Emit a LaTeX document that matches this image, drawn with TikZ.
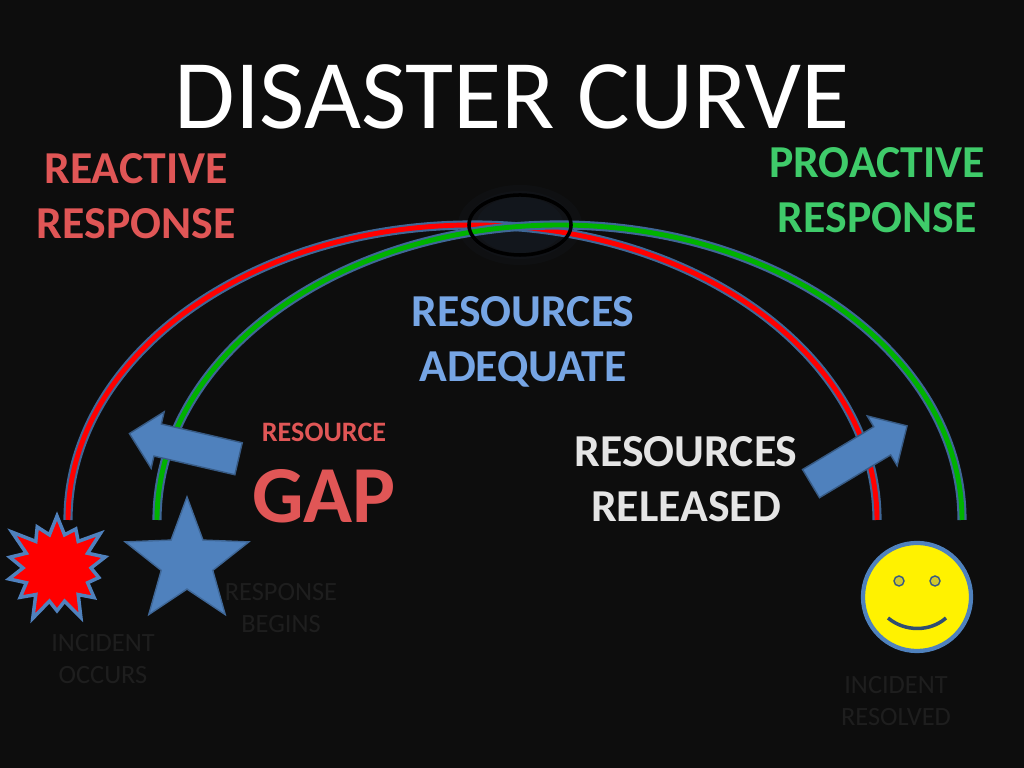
\documentclass[tikz,border=0pt]{standalone}
\usepackage{fontspec}
\setmainfont{Carlito}
\usetikzlibrary{shapes.geometric,shapes.arrows,shapes.misc,shapes}
\definecolor{bg}{HTML}{0D0D0D}
\definecolor{redtxt}{HTML}{E05656}
\definecolor{greentxt}{HTML}{3FCB6A}
\definecolor{bluetxt}{HTML}{76A5E4}
\definecolor{shapeblue}{HTML}{4F81BD}
\definecolor{dimtxt}{HTML}{1E1E1E}
\begin{document}
\begin{tikzpicture}[x=0.01cm, y=-0.01cm,
      heading/.style={font=\bfseries\fontsize{13}{15.5}\selectfont, align=center},
      dimlabel/.style={text=dimtxt, font=\fontsize{7.5}{9}\selectfont, align=center},
      blockarrow/.style={single arrow, draw=shapeblue!70!black, fill=shapeblue, minimum height=1.12cm, minimum width=0.58cm, single arrow head extend=0.12cm, inner sep=0pt}]
      \fill[bg] (0,0) rectangle (1024,768);
      % glow round the crossing
      \foreach \r in {1.0,0.85,0.7} {
        \fill[shapeblue, opacity=0.03] (520,225) ellipse ({62*\r} and {40*\r});
      }
      % reactive curve
      \draw[shapeblue!80!black, line width=2.6pt] (68,520) arc[start angle=180, end angle=360, x radius=404.5, y radius=295];
      \draw[red, line width=1.4pt] (68,520) arc[start angle=180, end angle=360, x radius=404.5, y radius=295];
      % proactive curve
      \draw[shapeblue!80!black, line width=2.6pt] (157,520) arc[start angle=180, end angle=360, x radius=402.5, y radius=295];
      \draw[green!70!black, line width=1.4pt] (157,520) arc[start angle=180, end angle=360, x radius=402.5, y radius=295];
      \node[draw=black, line width=1pt, ellipse, minimum width=1.02cm, minimum height=0.6cm] (cross) at (520,225) {};
      \node[text=white, font=\fontsize{28}{32}\selectfont] (title) at (512,97) {DISASTER CURVE};
      \node[heading, text=redtxt] (reactive) at (136,196) {REACTIVE\\RESPONSE};
      \node[heading, text=greentxt] (proactive) at (877,190) {PROACTIVE\\RESPONSE};
      \node[heading, text=bluetxt] (adequate) at (523,342) {RESOURCES\\ADEQUATE};
      \node[heading, text=white!80!gray] (released) at (686,479) {RESOURCES\\RELEASED};
      \node[text=redtxt, font=\bfseries\fontsize{8}{9}\selectfont] (resource) at (324,432) {RESOURCE};
      \node[text=redtxt, font=\bfseries\fontsize{23}{26}\selectfont] (gap) at (324,496) {GAP};
      \node[blockarrow, rotate=167] (leftarrow) at (192,448) {\rule{0pt}{0.3cm}};
      \node[blockarrow, rotate=31] (rightarrow) at (852,459) {\rule{0pt}{0.3cm}};
      \node[starburst, starburst points=14, starburst point height=0.25cm, draw=shapeblue, line width=1pt, fill=red, minimum size=1.18cm, inner sep=0pt] (incident) at (57,568) {};
      \node[star, star points=5, star point ratio=2.4, draw=shapeblue!80!black, fill=shapeblue, minimum size=1.3cm, inner sep=0pt] (begin) at (187,562) {};
      \node[circle, draw=shapeblue, line width=1.2pt, fill=yellow, minimum size=1.08cm, inner sep=0pt] (smiley) at (917,597) {};
      \fill[yellow!80!black, draw=shapeblue!70!black] (899,581) circle (5) (935,581) circle (5);
      \draw[shapeblue!60!black, line width=1pt] (888,618) .. controls (905,632) and (930,632) .. (946,618);
      \node[dimlabel] (occurs) at (103,659) {INCIDENT\\OCCURS};
      \node[dimlabel] (begins) at (281,608) {RESPONSE\\BEGINS};
      \node[dimlabel] (resolved) at (896,701) {INCIDENT\\RESOLVED};
\end{tikzpicture}
\end{document}
